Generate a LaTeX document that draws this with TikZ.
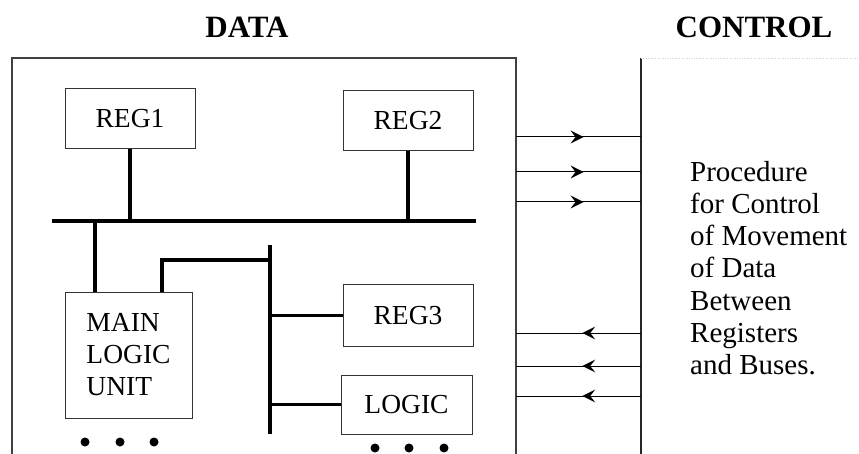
\documentclass[tikz,border=0pt]{standalone}
\usepackage{fontspec}
\setmainfont{Liberation Serif}
\usetikzlibrary{decorations.markings}

\begin{document}
\begin{tikzpicture}[x=1pt,y=-1pt,
  font=\fontsize{27.5}{32}\selectfont,
  box/.style={rectangle,draw=black!80,line width=1pt,inner sep=0pt},
  bus/.style={line width=3.5pt},
  head/.style={font=\fontsize{31}{36}\selectfont\bfseries},
  midarrow/.style={postaction={decorate},decoration={markings,
    mark=at position #1 with {\fill (-13pt,-6.5pt) -- (0pt,0pt) -- (-13pt,6.5pt) -- (-8pt,0pt) -- cycle;}}},
  dot/.style={fill=black}]
\useasboundingbox (0,0) rectangle (859,454);

\node[head] (data) at (247,27) {DATA};
\node[head] (control) at (754,27) {CONTROL};

% data side, open at the bottom
\draw[black!75,line width=1.3pt] (12,454) -- (12,58) -- (516,58) -- (516,454);
% control side
\draw[black!85,line width=1.2pt] (641,58) -- (641,454);
\draw[gray!35,dotted] (641,58) -- (859,58);

\node[box,minimum width=130pt,minimum height=60pt] (reg1) at (130,119) {REG1};
\node[box,minimum width=130pt,minimum height=60pt] (reg2) at (408,121) {REG2};
\node[box,minimum width=130pt,minimum height=61pt] (reg3) at (408,315.5) {REG3};
\node[box,minimum width=131pt,minimum height=59pt] (logic) at (406.5,404.5) {LOGIC};
\node[box,minimum width=127pt,minimum height=126pt,align=left] (mlu) at (128.5,355) {MAIN\\LOGIC\\UNIT};

% main bus
\coordinate (busW) at (52,221);
\coordinate (busE) at (476,221);
\draw[bus] (busW) -- (busE);
\draw[bus] (reg1.south) -- (reg1.south |- busW);
\draw[bus] (reg2.south) -- (reg2.south |- busW);
\coordinate (m1) at (95,221);
\draw[bus] (m1) -- (m1 |- mlu.north);

% second bus
\coordinate (b2top) at (270,245);
\coordinate (b2bot) at (270,434);
\coordinate (j1) at (270,260);
\draw[bus] (b2top) -- (b2bot);
\draw[bus] ([xshift=33.5pt]mlu.north) |- (j1);
\draw[bus] (reg3.west) -- (reg3.west -| b2top);
\draw[bus] (logic.west) -- (logic.west -| b2top);

\foreach \x in {85,120,154} \fill[dot] (\x,442) circle (4.5);
\foreach \x in {375,409,444} \fill[dot] (\x,448) circle (4.5);

% control lines
\foreach \y [count=\i] in {137,172,202} {
  \coordinate (o\i) at (516,\y);
  \coordinate (c\i) at (641,\y);
  \draw[midarrow=0.54,line width=1pt] (o\i) -- (c\i);
}
\foreach \y [count=\i from 4] in {333,366,396} {
  \coordinate (o\i) at (516,\y);
  \coordinate (c\i) at (641,\y);
  \draw[midarrow=0.47,line width=1pt] (c\i) -- (o\i);
}

\node[align=left,anchor=west,inner sep=0pt,font=\fontsize{29}{32.2}\selectfont] (proc) at (690,268)
  {Procedure\\for Control\\of Movement\\of Data\\Between\\Registers\\and Buses.};
\end{tikzpicture}
\end{document}
